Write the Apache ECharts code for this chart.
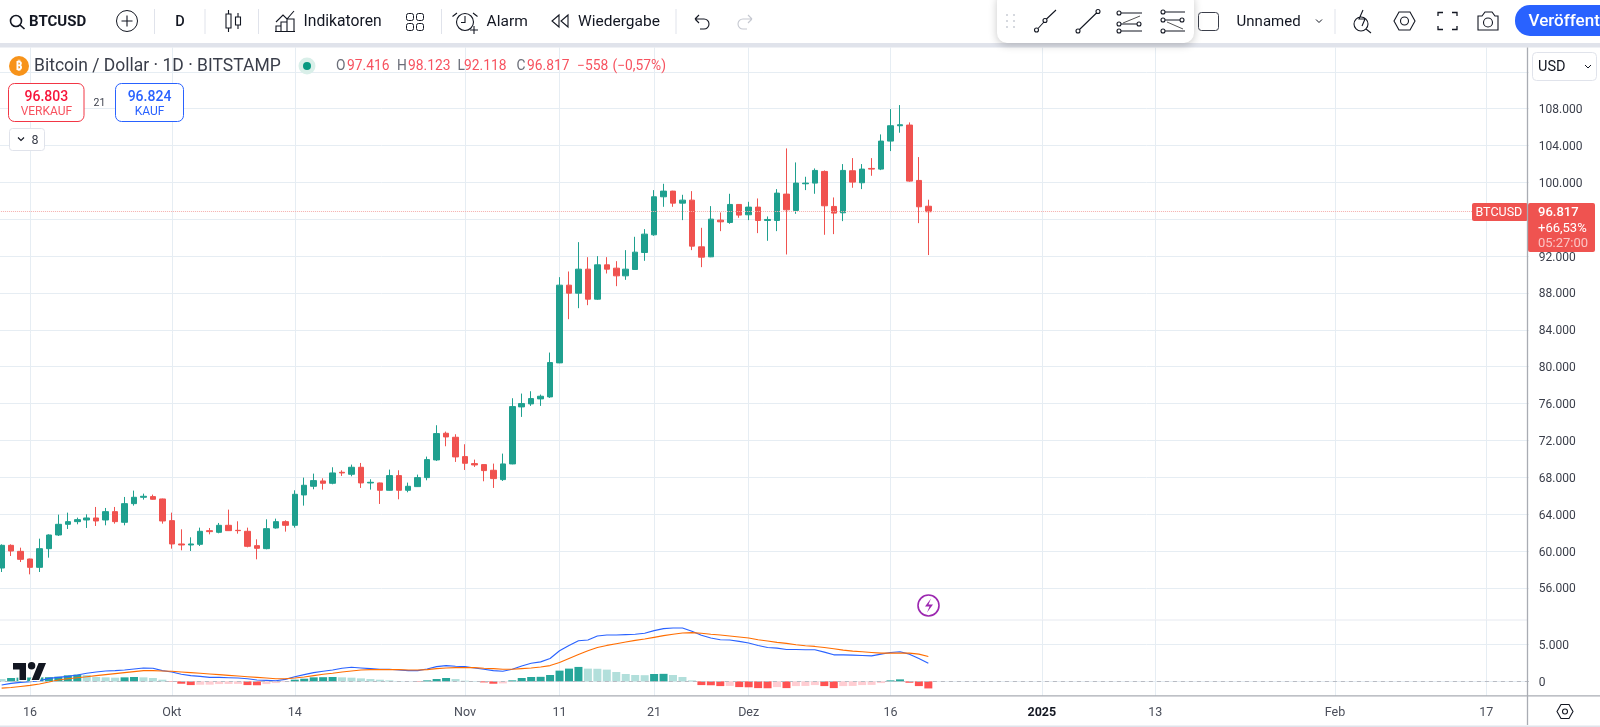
<!DOCTYPE html>
<html><head><meta charset="utf-8"><title>BTCUSD</title>
<style>html,body{margin:0;padding:0;background:#fff}#main{width:1600px;height:727px}</style>
<script src="https://cdn.jsdelivr.net/npm/echarts@6/dist/echarts.min.js"></script>
</head><body><div id="main"></div>
<script>
const opens=[58158,60619,59967,59135,58230,60257,61742,62900,63189,63370,63587,63370,64275,63117,65143,65831,65904,65650,63298,60765,60656,60728,62212,62031,62791,62248,62140,60584,60258,62502,63189,62791,66085,67026,67605,67352,68546,68329,69089,67388,67388,66592,68184,66592,66990,67967,69885,72780,72346,70247,69487,69378,68763,67750,69451,75639,75965,76508,76725,80417,88850,87981,90587,87329,91057,90695,89863,90550,92396,94314,98440,99055,97752,98078,93011,91926,95907,95654,97609,96487,97319,95872,95872,98731,96958,99853,99925,101192,97392,96704,101264,99961,101517,101445,104485,106150,106222,100215,97416];
const closes=[60619,60003,59099,58230,60257,61740,62900,63189,63407,63587,63262,64275,63189,65143,65831,65940,65614,63262,60765,60656,60765,62140,62104,62791,62212,62212,60511,60294,62429,63189,62791,66157,67135,67641,67352,68474,68474,69089,67388,67460,66592,68184,66592,67026,67967,69921,72744,72382,70211,69523,69342,68727,67858,69451,75675,76001,76544,76797,80452,88850,87981,90587,87329,91057,90587,89863,90587,92432,94387,98440,99055,97752,98078,93084,91889,96015,95726,97609,96451,97319,95872,95980,98839,97030,99925,99925,101300,97464,96668,101300,100033,101445,101445,104485,106150,106258,100142,97355,96817];
const lows=[57723,59461,58809,57470,57723,59280,61633,62393,62900,62502,62719,62791,62972,62791,64926,65578,65578,62972,60258,60077,60005,60547,61814,61923,62176,61886,60403,59100,60186,62429,62104,62538,64927,66700,66664,67243,68148,68112,66845,66664,65108,66556,65615,66375,66954,67677,69776,71369,69668,68799,69125,67569,66845,67605,69415,74553,75748,75748,76616,80381,85158,86352,86678,87257,90116,88741,89428,90550,91491,94206,97354,97354,95907,92649,90804,91889,94712,95510,96161,95908,94496,93664,94714,92180,96595,99165,98767,94316,94388,95799,99418,99273,100721,101336,103399,105390,100070,95582,92118];
const highs=[60727,60727,60365,59171,61342,61813,63949,64166,63624,63985,64782,64673,64782,65867,66555,66229,66121,65686,64166,62357,61488,62538,62502,63045,64492,63225,62538,61271,63443,63515,63334,66591,67967,68401,67895,69089,68763,69378,69559,67786,67424,68836,68763,67424,68293,70247,73649,72961,72672,71586,69921,69378,69487,70573,76580,77087,77340,76978,81538,89718,90333,93518,91889,91998,91889,91455,92649,94097,94930,99164,99851,99091,98657,99055,95074,97427,96739,98767,97645,97898,98260,96306,99273,103689,102169,100613,101517,101300,98369,101988,102639,101988,102639,105209,107959,108393,106511,102748,98123];
const macdLine=[-495,-270,-135,-45,90,405,540,675,855,1080,1260,1395,1440,1530,1665,1800,1755,1440,1260,945,765,675,540,540,495,450,360,180,135,90,270,630,900,1170,1350,1530,1755,1890,1800,1710,1620,1620,1530,1440,1440,1665,1980,2115,2025,1980,1800,1620,1440,1350,1620,2070,2430,2610,3060,4095,4815,5445,5535,6075,6210,6210,6255,6300,6435,6795,7065,7155,7155,6705,6165,5805,5580,5535,5355,5130,4815,4545,4455,4275,4275,4230,4230,3915,3555,3555,3510,3465,3420,3645,3870,3960,3645,3060,2430];
const signalLine=[-900,-810,-675,-540,-360,-90,180,360,495,630,765,900,1035,1170,1305,1440,1440,1395,1350,1260,1170,1080,990,900,810,720,630,540,450,360,360,450,585,765,945,1080,1260,1395,1530,1575,1575,1575,1575,1530,1530,1575,1710,1800,1845,1845,1845,1755,1710,1620,1620,1710,1800,1935,2115,2520,3060,3600,4095,4545,4815,5040,5265,5490,5670,5895,6120,6300,6480,6525,6435,6300,6210,6075,5940,5805,5580,5400,5220,5085,4905,4770,4680,4545,4365,4185,4050,3960,3870,3780,3780,3780,3780,3645,3330];
const histogram=[315,450,500,520,540,560,630,810,900,855,585,540,495,540,585,540,450,225,-45,-315,-495,-450,-440,-360,-350,-340,-495,-520,-360,-225,-90,225,360,540,560,585,540,495,405,315,225,135,45,10,-45,135,315,450,315,90,45,-135,-315,-270,135,450,585,610,855,1440,1710,1935,1710,1690,1575,1260,990,855,830,990,1010,855,585,135,-495,-520,-630,-610,-765,-790,-900,-920,-765,-900,-630,-610,-495,-630,-900,-630,-610,-495,-470,-225,135,270,-180,-630,-945];
const lastClose=96817;
const priceTicks=[56000,60000,64000,68000,72000,76000,80000,84000,88000,92000,96000,100000,104000,108000,112000];
const macdTicks=[0,5000];
const timeTicks={'2024-09-16':'16','2024-10-01':'Okt','2024-10-14':'14','2024-11-01':'Nov','2024-11-11':'11','2024-11-21':'21','2024-12-01':'Dez','2024-12-16':'16','2025-01-01':'2025','2025-01-13':'13','2025-02-01':'Feb','2025-02-17':'17'};
const startDay=Date.UTC(2024,8,13), dayCount=162;
const categories=[];
for(let i=0;i<dayCount;i++) categories.push(new Date(startDay+i*86400000).toISOString().slice(0,10));

const FONT='Roboto, "Noto Sans", sans-serif', INK='#131722', GRID='#e6edf3', UP='#1fa08f', DOWN='#f0524f';
const dotted=v=>String(v).replace(/\B(?=(\d{3})+$)/g,'.');
const isTick=(i,v)=>timeTicks[v]!==undefined;
const candles=opens.map((o,i)=>[o,closes[i],lows[i],highs[i]]);
const histItems=histogram.map((h,i)=>{
  const rising=i>0&&h>histogram[i-1];
  const col=h>=0?(rising?'#26a69a':'#b2dfdb'):(rising?'#ffcdd2':'#ff5252');
  return {value:h,itemStyle:{color:col}};
});

const G=[];
let pid=0;
const pathShape=d=>{const n='icon'+(pid++);echarts.graphic.registerShape(n,echarts.graphic.extendPath(d,{}));return n;};
const R=(x,y,w,h,fill,stroke,r,extra)=>G.push({type:'rect',z:100,silent:true,shape:{x,y,width:w,height:h,r:r||0},style:Object.assign({fill:fill||'none',stroke:stroke||'none',lineWidth:1},extra||{})});
const T=(s,x,y,size,fill,align,weight)=>G.push({type:'text',z:101,silent:true,style:{text:s,x,y:y+1,fontSize:size,fontFamily:FONT,fontWeight:weight||'normal',fill:fill||INK,textAlign:align||'left',textVerticalAlign:'middle'}});
const P=(d,stroke,lw,fill)=>G.push({type:pathShape(d),z:101,silent:true,style:{fill:fill||'none',stroke:stroke===undefined?INK:stroke,lineWidth:lw||1.1}});
const C=(x,y,r,fill,stroke,lw)=>G.push({type:'circle',z:101,silent:true,shape:{cx:x,cy:y,r},style:{fill:fill||'none',stroke:stroke||'none',lineWidth:lw||1.1}});
const L=(x1,y1,x2,y2,col,lw)=>G.push({type:'line',z:100,silent:true,shape:{x1,y1,x2,y2},style:{stroke:col,lineWidth:lw||1}});
const circ=(x,y,r)=>`M${x-r} ${y}A${r} ${r} 0 1 1 ${x+r} ${y}A${r} ${r} 0 1 1 ${x-r} ${y}Z`;

// toolbar
R(0,0,1600,43,'#fff');R(0,43,1600,4.5,'#e0e3eb');
C(16,21,5.5,null,INK,1.6);P('M20 25L24.5 29',INK,1.6);
T('BTCUSD',29,21,15,INK,'left','bold');
C(127,21,10.5,null,INK,1);P('M127 15.5V26.5M121.5 21H132.5');
[154.5,205,258.5,441.5,676].forEach(x=>L(x,9,x,34,'#e0e3eb'));
T('D',180,21,14.5,INK,'center','500');
P('M228.5 10V14M226 14h5v14h-5zM228.5 28V32M238 13V17M235.5 17h5v8h-5zM238 25V29');
P('M276 22L283 15L287 19L294 11M276 31V26H281V31M281 31V22H287V31M287 31V19H294V31M275 31.5H295');
T('Indikatoren',303.5,21,15.7);
[[406,13],[416,13],[406,23],[416,23]].forEach(a=>R(a[0]+.5,a[1]+.5,7,7,'none',INK,2));
C(465,22,8.5,null,INK);P('M465 16V22.5L461 22.5M457 13L452.5 16.5M473 13L477.5 16.5M474 26V34M470 30H478');
T('Alarm',486.6,21,15.5);
P('M559 15L552 21L559 27ZM568 15L561 21L568 27Z');
T('Wiedergabe',578,21,15.5);
P('M695 19H704A5 5 0 0 1 704 29H700M695 19L699 15M695 19L699 23',INK,1.1);
P('M752 19H743A5 5 0 0 0 743 29H747M752 19L748 15M752 19L748 23','#c5c8d0',1.1);
// floating drawing toolbar
R(997,-8,197,51,'#fff','none',10,{shadowBlur:8,shadowColor:'rgba(0,0,0,0.22)',shadowOffsetY:2});
[15,21,27].forEach(y=>{C(1007,y,1,'#c9ccd4');C(1014,y,1,'#c9ccd4');});
P(circ(1036.5,30,2)+circ(1045,20.5,2)+'M1038 28.5L1043.5 22.5M1046.5 19L1056 10');
P(circ(1078,31,2)+circ(1098,11.5,2)+'M1079.5 29.5L1096.5 13');
P(circ(1119,13,2)+circ(1119,24,2)+circ(1119,31,2)+circ(1139,24,2)+'M1121 13H1142M1121 24H1137M1121 31H1142');
P('M1123 23L1140 16','#555',1,'none');
P(circ(1163,12,2)+circ(1163,20,2)+circ(1163,31,2)+circ(1182,20,2)+'M1165 12H1185M1165 20H1180M1165 31H1185');
P('M1167 22L1183 29','#555',1);
R(1198.5,12.5,20,18,'none','#3a3e4a',3);
T('Unnamed',1236.6,21,15);
P('M1316 19.5L1319 22.5L1322 19.5',INK,1);
L(1335,9,1335,34,'#e0e3eb');
P(circ(1361,24,7)+'M1366 29L1371 33M1363 10L1359 19H1365L1362 26',INK,1.1);
P('M1394 21L1399 12H1410L1415 21L1410 30H1399Z'+circ(1404.5,21,4));
P('M1438 16V12.5H1443M1452 12.5H1457V16M1457 26V29.5H1452M1443 29.5H1438V26',INK,1.3);
P('M1478 16H1482L1485 12H1492L1495 16H1498V30H1478Z'+circ(1488,22.5,4.5));
R(1515,5,120,31,'#2962ff','none',15);
T('Veröffentlichen',1528.6,21,17,'#fff','left','500');

// legend
C(19,66,10,'#f7931a');T('₿',19,65.5,12,'#fff','center','bold');
T('Bitcoin / Dollar · 1D · BITSTAMP',34,66,17.5,'#3a3e4a');
C(307,66,8.5,'#d9efe9');C(307,66,4,'#089981');
[['O',336,'#6a6d78'],['97.416',347,'#f7525f'],['H',397,'#6a6d78'],['98.123',408,'#f7525f'],['L',457.6,'#6a6d78'],['92.118',464,'#f7525f'],['C',516.5,'#6a6d78'],['96.817',527,'#f7525f'],['−558',577,'#f7525f'],['(−0,57%)',612.5,'#f7525f']].forEach(a=>T(a[0],a[1],66,13.8,a[2]));
R(8.5,83.5,75.5,38,'#fff','#f23645',6);T('96.803',46.4,96,14,'#f7143a','center','500');T('VERKAUF',46.4,111,12,'#f7525f','center');
T('21',99.5,102,10.5,'#3a3e4a','center');
R(115.5,83.5,68,38,'#fff','#2962ff',6);T('96.824',149.5,96,14,'#2962ff','center','500');T('KAUF',149.5,111,12,'#2962ff','center');
R(9.5,128.5,35,22,'#fff','#e0e3eb',3);P('M18 137.5L21 140.5L24 137.5',INK,1.1);T('8',35,139.5,12.5,'#3a3e4a','center');

// right-axis furniture
R(1532.5,52.5,64,28,'#fff','#e0e3eb',4);T('USD',1538,66,14.5,INK);P('M1585 65L1588 68L1591 65',INK,1);
R(1472,203,56,18,'#ef5350','none',2);T('BTCUSD',1475.5,212,12.5,'#fff');
R(1528,203,67,49,'#ef5350','none',2);
T('96.817',1538,212,13,'#fff','left','500');T('+66,53%',1538,228,13,'#fff');T('05:27:00',1538,243,13,'#fbc4c4');

// pane frame
L(0,620,1527.5,620,'#e6e9f0');
L(1527.5,47.5,1527.5,725,'#a9acb3',1.3);
L(0,695.8,1600,695.8,'#a9acb3',1.3);
R(0,725.5,1600,1.5,'#e0e3eb');
P('M1557 711.5L1561 704.5H1569L1573 711.5L1569 718.5H1561Z'+circ(1565,711.5,2.5));

// purple flash marker
C(928.5,605.5,10.5,'#fff','#9c27b0',1.6);
P('M931 598.5L925 606.5H929.5L927 612.5L933 604.5H928.5Z','none',1,'#9c27b0');
// logo
G.push({type:pathShape('M14 22H7V11H0V4h14v18zM28 22h-8l7.5-18h8L28 22zM24 7a4 4 0 1 1-8 0a4 4 0 1 1 8 0z'),z:101,silent:true,x:13,y:659.2,scaleX:.93,scaleY:.94,style:{fill:'#131722',stroke:'#fff',lineWidth:2.5,strokeFirst:true}});

const xBase={type:'category',data:categories,boundaryGap:true,axisTick:{show:false},axisLine:{show:false},
  splitLine:{show:true,interval:isTick,alignWithLabel:true,lineStyle:{color:GRID,width:1}}};
const priceRich={a:{padding:[3,0,0,0],color:'#3a3e4a',fontSize:12,fontFamily:FONT}};
const chart=echarts.init(document.getElementById('main'),null,{renderer:'canvas'});
chart.setOption({
  animation:false,backgroundColor:'#fff',
  textStyle:{fontFamily:FONT},
  tooltip:{show:false},legend:{show:false},
  grid:[
    {left:-3.1,width:1531.9,top:47.5,height:572,outerBoundsMode:'none',containLabel:false},
    {left:-3.1,width:1531.9,top:620,height:75.8,outerBoundsMode:'none',containLabel:false}
  ],
  xAxis:[
    Object.assign({},xBase,{gridIndex:0,axisLabel:{show:false}}),
    Object.assign({},xBase,{gridIndex:1,axisLabel:{show:true,interval:isTick,hideOverlap:false,margin:11,color:'#4a4e5a',fontSize:12.5,fontFamily:FONT,
      formatter:v=>timeTicks[v]==='2025'?'{b|2025}':(timeTicks[v]||''),rich:{b:{fontWeight:'bold',color:'#131722',fontSize:12.5,fontFamily:FONT}}}})
  ],
  yAxis:[
    {type:'value',gridIndex:0,position:'right',min:52570,max:114640,scale:true,
     axisLine:{show:false},axisTick:{show:false,customValues:priceTicks},
     axisLabel:{show:true,customValues:priceTicks,margin:10,rich:priceRich,formatter:v=>v>108000?'':'{a|'+dotted(v)+'}'},
     splitLine:{show:true,lineStyle:{color:GRID,width:1}}},
    {type:'value',gridIndex:1,position:'right',min:-1930,max:8217,
     axisLine:{show:false},axisTick:{show:false,customValues:macdTicks},
     axisLabel:{show:true,customValues:macdTicks,margin:10,rich:priceRich,formatter:v=>'{a|'+dotted(v)+'}'},
     splitLine:{show:true,lineStyle:{color:GRID,width:1}}}
  ],
  series:[
    {name:'BTCUSD',type:'candlestick',xAxisIndex:0,yAxisIndex:0,data:candles,barWidth:6,silent:true,
     itemStyle:{color:UP,color0:DOWN,borderColor:UP,borderColor0:DOWN,borderWidth:1},
     markLine:{silent:true,symbol:'none',label:{show:false},lineStyle:{type:'dotted',color:'#f5aeab',width:1},data:[{yAxis:lastClose}]}},
    {name:'Histogram',type:'bar',xAxisIndex:1,yAxisIndex:1,data:histItems,barWidth:8,silent:true,
     markLine:{silent:true,symbol:'none',label:{show:false},lineStyle:{type:[4,4],color:'#b8bbc3',width:1},data:[{yAxis:0}]}},
    {name:'MACD',type:'line',xAxisIndex:1,yAxisIndex:1,data:macdLine,symbol:'none',silent:true,lineStyle:{color:'#2962ff',width:1.1}},
    {name:'Signal',type:'line',xAxisIndex:1,yAxisIndex:1,data:signalLine,symbol:'none',silent:true,lineStyle:{color:'#ff6d00',width:1.1}}
  ],
  graphic:{elements:G}
});
</script></body></html>
